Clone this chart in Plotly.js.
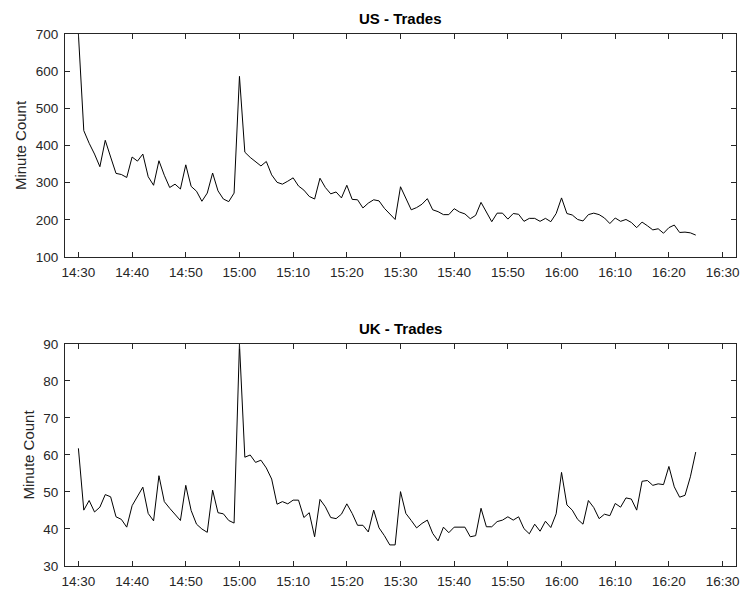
<!DOCTYPE html>
<html>
<head>
<meta charset="utf-8">
<script src="https://cdn.plot.ly/plotly-3.0.1.min.js"></script>
<style>html,body{margin:0;padding:0;background:#fff;}#chart{width:741px;height:592px;}</style>
</head>
<body>
<div id="chart"></div>
<script>
// One observation per minute, starting 14:30
const day = '2000-01-01';
const startTime = '14:30';
const titles = ['US - Trades', 'UK - Trades'];
const yLabel = 'Minute Count';

const usTrades = [
  700, 440, 406, 377, 343, 414, 369, 325, 322, 314,
  369, 358, 377, 316, 293, 359, 320, 287, 296, 283,
  348, 290, 277, 250, 272, 326, 278, 256, 249, 272,
  586, 382, 368, 356, 345, 357, 321, 301, 296, 304,
  313, 291, 280, 263, 256, 312, 287, 270, 275, 259,
  293, 255, 254, 232, 245, 254, 251, 231, 215, 201,
  289, 258, 227, 233, 242, 257, 227, 222, 214, 214,
  230, 221, 216, 203, 212, 247, 220, 195, 218, 218,
  202, 217, 215, 196, 204, 204, 196, 204, 195, 217,
  259, 217, 213, 201, 197, 214, 218, 214, 205, 190,
  205, 196, 201, 193, 179, 194, 184, 173, 176, 164,
  179, 186, 166, 167, 165, 159
];

const ukTrades = [
  61.8, 45.1, 47.7, 44.6, 45.9, 49.3, 48.7, 43.3, 42.6, 40.5,
  46.3, 48.9, 51.3, 44.2, 42.2, 54.4, 47.4, 45.6, 43.8, 42.3,
  51.8, 45.0, 41.3, 40.0, 39.1, 50.5, 44.4, 44.1, 42.3, 41.6,
  90.0, 59.4, 60.0, 58.0, 58.6, 56.5, 53.5, 46.7, 47.4, 46.8,
  47.8, 47.8, 43.1, 44.4, 37.9, 48.0, 46.0, 43.1, 42.8, 44.0,
  46.8, 44.2, 41.0, 41.0, 39.2, 45.1, 40.3, 38.2, 35.7, 35.7,
  50.1, 44.2, 42.3, 40.3, 41.5, 42.4, 38.8, 36.8, 40.5, 39.0,
  40.5, 40.5, 40.5, 37.9, 38.2, 45.6, 40.6, 40.6, 42.0, 42.4,
  43.3, 42.4, 43.3, 40.1, 38.7, 41.3, 39.4, 42.1, 40.4, 44.1,
  55.3, 46.5, 45.1, 42.6, 41.3, 47.7, 45.8, 42.8, 44.0, 43.6,
  46.9, 45.9, 48.4, 48.1, 45.1, 52.9, 53.1, 51.8, 52.2, 52.0,
  56.9, 51.4, 48.6, 49.1, 54.1, 60.8
];

function minuteStamps(n) {
  const [h0, m0] = startTime.split(':').map(Number);
  const out = [];
  for (let i = 0; i < n; i++) {
    const t = h0 * 60 + m0 + i;
    const hh = String(Math.floor(t / 60)).padStart(2, '0');
    const mm = String(t % 60).padStart(2, '0');
    out.push(day + ' ' + hh + ':' + mm + ':00');
  }
  return out;
}

const times = minuteStamps(usTrades.length);

const axisColor = '#262626';
const FONT = 'Liberation Sans, Arial, sans-serif';
const tickFont = {family: FONT, size: 13.5, color: axisColor};

const xCommon = {
  type: 'date',
  range: [day + ' 14:27:30', day + ' 16:32:30'],
  tickformat: '%H:%M',
  dtick: 600000,
  tick0: day + ' 14:30:00',
  ticks: 'inside', ticklen: 5, tickcolor: axisColor, tickwidth: 1,
  showline: true, linecolor: axisColor, linewidth: 1, mirror: 'ticks',
  showgrid: false, zeroline: false,
  tickfont: tickFont,
  ticklabelstandoff: 3
};
function yCommon(range, dtick) {
  return {
    range: range, dtick: dtick,
    ticks: 'inside', ticklen: 5, tickcolor: axisColor, tickwidth: 1,
    showline: true, linecolor: axisColor, linewidth: 1, mirror: 'ticks',
    showgrid: false, zeroline: false,
    tickfont: tickFont,
    ticklabelstandoff: 3,
    title: {text: yLabel, font: {family: FONT, size: 15, color: axisColor}, standoff: 5}
  };
}

const traces = [
  {x: times, y: usTrades, type: 'scatter', mode: 'lines', line: {color: '#000', width: 1}, xaxis: 'x', yaxis: 'y'},
  {x: times, y: ukTrades, type: 'scatter', mode: 'lines', line: {color: '#000', width: 1}, xaxis: 'x2', yaxis: 'y2'}
];

const topDom = [0.5808, 1];
const botDom = [0, 0.4173];

const layout = {
  width: 741, height: 592,
  margin: {l: 65, r: 5, t: 34, b: 26},
  paper_bgcolor: '#fff', plot_bgcolor: '#fff',
  showlegend: false,
  xaxis: Object.assign({}, xCommon, {domain: [0, 1], anchor: 'y'}),
  yaxis: Object.assign(yCommon([100, 700], 100), {domain: topDom, anchor: 'x'}),
  xaxis2: Object.assign({}, xCommon, {domain: [0, 1], anchor: 'y2'}),
  yaxis2: Object.assign(yCommon([30, 90], 10), {domain: botDom, anchor: 'x2'}),
  annotations: [
    {text: '<b>' + titles[0] + '</b>', xref: 'paper', yref: 'paper', x: 0.5, y: topDom[1], xanchor: 'center', yanchor: 'bottom', yshift: 5, showarrow: false, font: {family: FONT, size: 15, color: '#000'}},
    {text: '<b>' + titles[1] + '</b>', xref: 'paper', yref: 'paper', x: 0.5, y: botDom[1], xanchor: 'center', yanchor: 'bottom', yshift: 5, showarrow: false, font: {family: FONT, size: 15, color: '#000'}}
  ]
};

Plotly.newPlot('chart', traces, layout, {displayModeBar: false, staticPlot: true});
</script>
</body>
</html>
